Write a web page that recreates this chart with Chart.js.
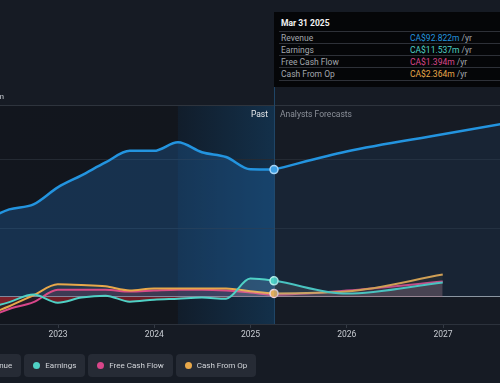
<!DOCTYPE html>
<html><head><meta charset="utf-8">
<script src="https://cdn.jsdelivr.net/npm/chart.js@4.4.1/dist/chart.umd.min.js"></script>
<style>
html,body{margin:0;padding:0;background:#161b24;overflow:hidden;width:500px;height:383px;font-family:Roboto,"Open Sans",sans-serif;}
#wrap{position:relative;width:500px;height:383px;overflow:hidden;}
canvas{position:absolute;left:0;top:0;}
.ylab{position:absolute;top:92px;left:-60px;width:64px;text-align:right;font-size:8px;color:#c8ccd2;white-space:nowrap;}
.zone{position:absolute;top:109px;font-size:8.5px;white-space:nowrap;}
#past{left:232px;width:36px;text-align:right;color:#e6e8ea;}
#fc{left:280px;color:#8b9099;}
#tip{position:absolute;left:274px;top:12px;width:250px;height:75px;background:#050608;}
#tip .title{position:absolute;left:7px;top:6px;font-size:8.5px;font-weight:bold;color:#f2f2f2;}
#tip .row{position:absolute;left:5px;right:0;height:12px;border-top:1px solid #2e3138;font-size:8.5px;line-height:12px;}
#tip .lab{position:absolute;left:2px;color:#a3a7ad;}
#tip .val{position:absolute;left:131px;white-space:nowrap;}
#tip .yr{color:#a3a7ad;}
#legend{position:absolute;top:354px;left:-39px;display:flex;gap:3px;}
.pill{display:flex;align-items:center;height:23px;padding:0 9px;background:#262b35;border-radius:4px;font-size:8px;color:#d2d5da;white-space:nowrap;}
.dot{width:7px;height:7px;border-radius:50%;margin-right:5px;}
</style></head>
<body>
<div id="wrap">
<canvas id="c" width="500" height="383"></canvas>
<div class="ylab">CA$140m</div>
<div class="zone" id="past">Past</div>
<div class="zone" id="fc">Analysts Forecasts</div>
<div id="tip">
  <div class="title">Mar 31 2025</div>
  <div class="row" style="top:19px"><span class="lab">Revenue</span><span class="val"><span style="color:#2394df">CA$92.822m</span><span class="yr"> /yr</span></span></div>
  <div class="row" style="top:31px"><span class="lab">Earnings</span><span class="val"><span style="color:#4fd1c5">CA$11.537m</span><span class="yr"> /yr</span></span></div>
  <div class="row" style="top:43px"><span class="lab">Free Cash Flow</span><span class="val"><span style="color:#d9468a">CA$1.394m</span><span class="yr"> /yr</span></span></div>
  <div class="row" style="top:55px;border-bottom:1px solid #2e3138"><span class="lab">Cash From Op</span><span class="val"><span style="color:#e8a84a">CA$2.364m</span><span class="yr"> /yr</span></span></div>
</div>
<div id="legend">
  <div class="pill"><span class="dot" style="background:#2394df"></span>Revenue</div>
  <div class="pill"><span class="dot" style="background:#4fd1c5"></span>Earnings</div>
  <div class="pill"><span class="dot" style="background:#d9468a"></span>Free Cash Flow</div>
  <div class="pill"><span class="dot" style="background:#e8a84a"></span>Cash From Op</div>
</div>
</div>
<script>
// ---- data (CA$ millions, trailing twelve months) ----
const pastDates = ['2022-03-31','2022-06-30','2022-09-30','2022-12-31','2023-03-31','2023-06-30','2023-09-30','2023-12-31','2024-03-31','2024-06-30','2024-09-30','2024-12-31','2025-03-31'];
const revenuePast  = [56, 63.7, 67.4, 79.8, 88.6, 98, 106.5, 106.5, 112.8, 105.5, 102, 93, 92.822];
const earningsPast = [-9, -4, 1.5, -4.4, -0.7, 0.7, -3.7, -2.2, -1.5, -0.7, -1.5, 13.2, 11.537];
const fcfPast      = [-16, -9, -4, 5, 5, 5, 3.7, 4.4, 5, 5, 4.4, 3, 1.394];
const cfoPast      = [-14, -7, 1, 9, 8.5, 7.5, 4.5, 6, 6, 6, 6, 4, 2.364];

const revForecastDates = ['2025-03-31','2025-12-31','2026-12-31','2027-12-31'];
const revenueForecast  = [92.822, 106, 118.6, 131];
const smallForecastDates = ['2025-03-31','2025-12-31','2026-12-31'];
const earningsForecast = [11.537, 2.2, 10.3];
const fcfForecast      = [1.394, 4.4, 11];
const cfoForecast      = [2.364, 3.7, 16.1];

const tickYears = [2023, 2024, 2025, 2026, 2027];
const yGrid = [0, 50, 100, 140];
const NOW = '2025-03-31';
const BAND_START = '2024-03-31';

// ---- helpers ----
function toYear(s){const d=Date.parse(s+'T00:00:00Z');const y=new Date(d).getUTCFullYear();const a=Date.UTC(y,0,1),b=Date.UTC(y+1,0,1);return y+(d-a)/(b-a);}
function pts(dates, vals){return dates.map((d,i)=>({x:toYear(d),y:vals[i]}));}
function joinSeries(pv, fv){return pts(pastDates,pv).concat(pts(smallForecastDates.slice(1),fv.slice(1)));}
const nowX = toYear(NOW);
const markAt = (r)=> (ctx)=> (ctx.raw && Math.abs(ctx.raw.x-nowX)<1e-6) ? r : 0;

const BLUE='#2394df', TEAL='#4fd1c5', PINK='#d9468a', ORANGE='#e8a84a';

const bgPlugin = {
  id:'bg',
  beforeDraw(chart){
    const {ctx, chartArea:a, scales:{x}} = chart;
    const xn = x.getPixelForValue(nowX), xb = x.getPixelForValue(toYear(BAND_START));
    ctx.save();
    ctx.fillStyle='#161b24'; ctx.fillRect(0,0,chart.width,chart.height);
    let g = ctx.createLinearGradient(a.left,0,xb,0);
    g.addColorStop(0,'#12161e'); g.addColorStop(1,'#12161d');
    ctx.fillStyle=g; ctx.fillRect(a.left,a.top,xb-a.left,a.bottom-a.top);
    g = ctx.createLinearGradient(xb,0,xn,0);
    g.addColorStop(0,'#111d2b'); g.addColorStop(1,'#13304a');
    ctx.fillStyle=g; ctx.fillRect(xb,a.top,xn-xb,a.bottom-a.top);
    ctx.restore();
  },
  beforeDatasetsDraw(chart){
    const {ctx, chartArea:a, scales:{x}} = chart;
    const xn = Math.round(x.getPixelForValue(nowX))+0.5;
    ctx.save(); ctx.strokeStyle='#1f4566'; ctx.lineWidth=1;
    ctx.beginPath(); ctx.moveTo(xn,87); ctx.lineTo(xn,a.bottom); ctx.stroke(); ctx.restore();
  }
};

Chart.defaults.font.family='Roboto, "Open Sans", sans-serif';
Chart.defaults.font.size=8.5;

new Chart(document.getElementById('c'), {
  type:'line',
  data:{datasets:[
    {label:'Earnings', data:joinSeries(earningsPast, earningsForecast), borderColor:TEAL, borderWidth:2,
     fill:{target:'origin', above:'rgba(190,215,220,0.13)', below:'rgba(190,35,45,0.55)'},
     pointRadius:markAt(4), pointBackgroundColor:TEAL, pointBorderColor:'#b9f0ea', pointBorderWidth:1.5, order:2},
    {label:'Cash From Op', data:joinSeries(cfoPast, cfoForecast), borderColor:ORANGE, borderWidth:2,
     fill:{target:'origin', above:'rgba(232,168,74,0.06)', below:'rgba(232,168,74,0.05)'},
     pointRadius:markAt(4), pointBackgroundColor:ORANGE, pointBorderColor:'#f3d3dc', pointBorderWidth:1.5, order:3},
    {label:'Free Cash Flow', data:joinSeries(fcfPast, fcfForecast), borderColor:PINK, borderWidth:2,
     fill:{target:'origin', above:'rgba(214,70,130,0.15)', below:'rgba(214,70,130,0.10)'},
     pointRadius:0, order:4},
    {label:'Revenue', data:pts(revForecastDates, revenueForecast), borderColor:BLUE, borderWidth:2.5,
     fill:'origin', backgroundColor:'rgba(40,100,160,0.13)',
     pointRadius:markAt(4), pointBackgroundColor:'#3d9fe3', pointBorderColor:'#a8d4f5', pointBorderWidth:1.5, order:1},
    {label:'Revenue past', data:pts(pastDates, revenuePast), borderColor:BLUE, borderWidth:2.5,
     fill:'origin', backgroundColor:'rgba(33,110,180,0.32)', pointRadius:0, order:5}
  ]},
  options:{
    responsive:false, animation:false, events:[],
    layout:{autoPadding:false, padding:{top:105,left:0,right:0,bottom:29}},
    elements:{line:{cubicInterpolationMode:'monotone'}},
    plugins:{legend:{display:false}, tooltip:{enabled:false}},
    scales:{
      x:{type:'linear', min:2022.397, max:2027.592,
         afterBuildTicks:s=>{s.ticks=tickYears.map(v=>({value:v}));},
         afterFit:s=>{s.height=30; s.paddingLeft=0; s.paddingRight=0;},
         ticks:{color:'#c8ccd2', padding:2, autoSkip:false, maxRotation:0, callback:v=>String(v)},
         grid:{drawOnChartArea:false, drawTicks:true, tickLength:4, color:'#343a44'},
         border:{color:'#2c323c'}},
      y:{type:'linear', min:-20, max:140,
         afterBuildTicks:s=>{s.ticks=yGrid.map(v=>({value:v}));},
         afterFit:s=>{s.width=0; s.paddingTop=0; s.paddingBottom=0;},
         ticks:{display:false},
         grid:{drawTicks:false, color:c=>c.tick.value===0?'rgba(195,200,205,0.75)':(c.tick.value===140?'#2e343d':'#242a33')},
         border:{display:false}}
    }
  },
  plugins:[bgPlugin]
});
</script>
</body></html>
